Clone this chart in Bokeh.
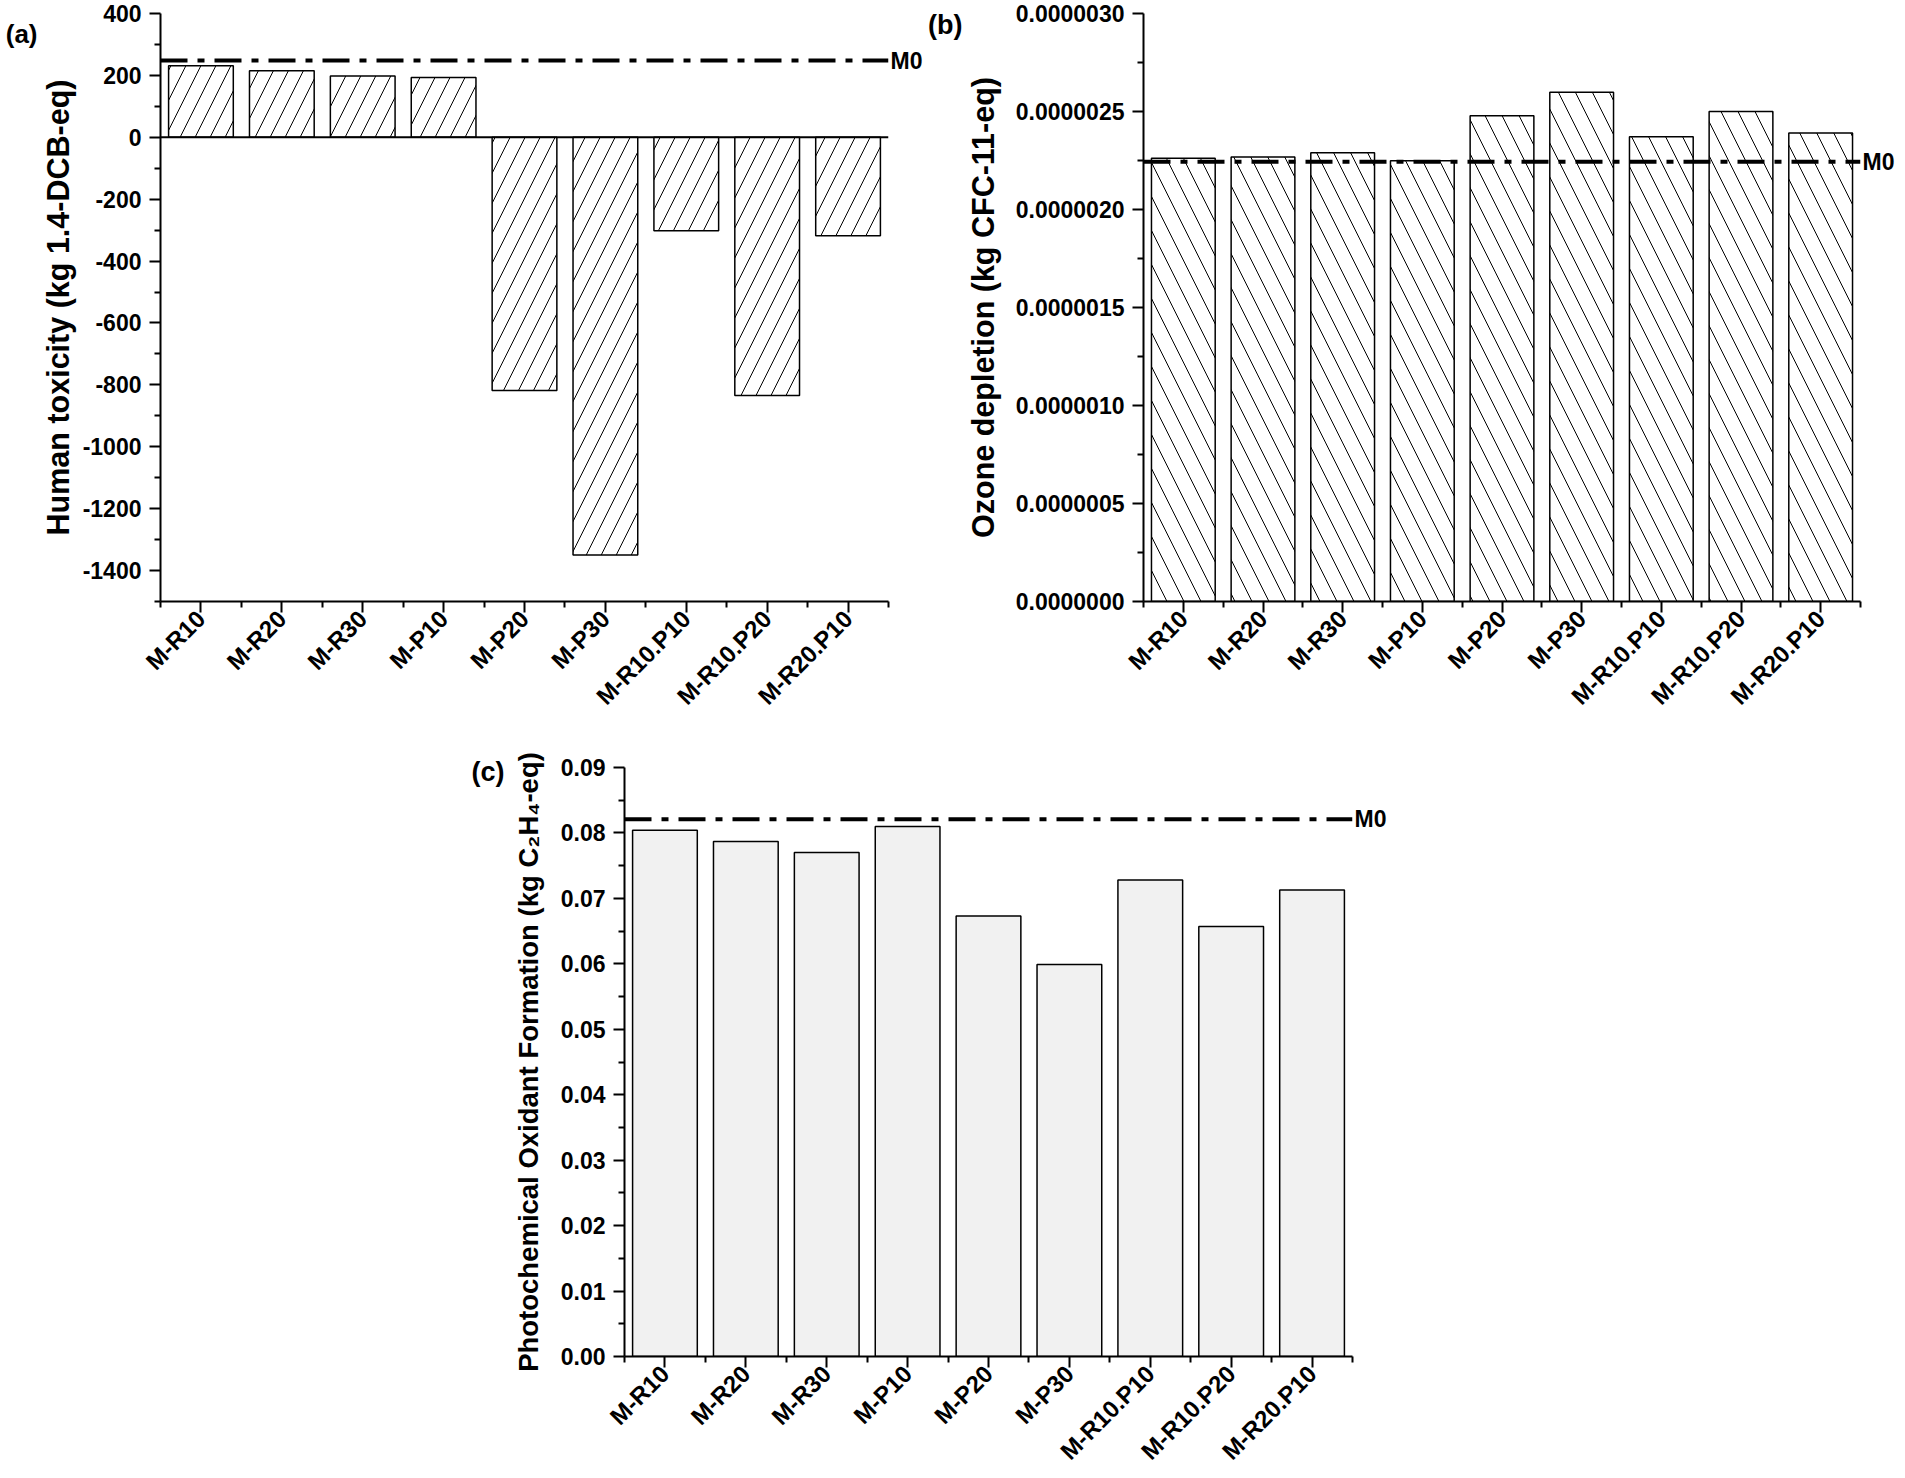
import math
from bokeh.plotting import figure
from bokeh.models import (Range1d, FixedTicker, PrintfTickFormatter, Span,
                          LinearAxis)
from bokeh.layouts import column, row
from bokeh.embed import file_html
from bokeh.resources import INLINE

# ---------------- data ----------------
categories = ["M-R10", "M-R20", "M-R30", "M-P10", "M-P20", "M-P30",
              "M-R10.P10", "M-R10.P20", "M-R20.P10"]

human_toxicity = [231, 215, 198, 193, -818, -1350, -302, -834, -318]
human_toxicity_m0 = 248

ozone_depletion = [2.261e-6, 2.268e-6, 2.289e-6, 2.249e-6, 2.478e-6,
                   2.598e-6, 2.371e-6, 2.500e-6, 2.390e-6]
ozone_depletion_m0 = 2.243e-6

photochemical = [0.0804, 0.0787, 0.0770, 0.0810, 0.0673,
                 0.0599, 0.0728, 0.0657, 0.0713]
photochemical_m0 = 0.0821

ticks_a = [-1400, -1200, -1000, -800, -600, -400, -200, 0, 200, 400]
tick_labels_a = ["-1400", "-1200", "-1000", "-800", "-600",
                 "-400", "-200", "0", "200", "400"]
ticks_b = [0.0, 0.5e-6, 1.0e-6, 1.5e-6, 2.0e-6, 2.5e-6, 3.0e-6]
ticks_c = [0.00, 0.01, 0.02, 0.03, 0.04, 0.05, 0.06, 0.07, 0.08, 0.09]

title_a = "Human toxicity (kg 1.4-DCB-eq)"
title_b = "Ozone depletion (kg CFC-11-eq)"
title_c = "Photochemical Oxidant Formation (kg C\u2082H\u2084-eq)"
baseline_name = "M0"

FONT = "Liberation Sans"
xs = list(range(1, len(categories) + 1))


def minor_between(ticks):
    step = ticks[1] - ticks[0]
    return [t - step / 2 for t in ticks] + [ticks[-1] + step / 2]


def style_axis(ax, size, standoff):
    ax.axis_line_width = 2
    ax.axis_line_color = "black"
    ax.major_tick_line_width = 2
    ax.minor_tick_line_width = 2
    ax.major_tick_line_color = "black"
    ax.minor_tick_line_color = "black"
    ax.major_tick_out = 11
    ax.major_tick_in = 0
    ax.minor_tick_out = 6
    ax.minor_tick_in = 0
    ax.major_label_text_font = FONT
    ax.major_label_text_font_style = "bold"
    ax.major_label_text_font_size = size
    ax.major_label_text_color = "black"
    ax.major_label_standoff = standoff


def text_axis(text, pos, size, standoff, range_name=None):
    kw = {}
    if range_name:
        kw["y_range_name"] = range_name
    ax = LinearAxis(ticker=FixedTicker(ticks=[pos], minor_ticks=[]),
                    major_label_overrides={pos: text}, **kw)
    ax.axis_line_color = None
    ax.major_tick_line_color = None
    ax.minor_tick_line_color = None
    ax.major_tick_out = 0
    ax.major_tick_in = 0
    ax.minor_tick_out = 0
    ax.minor_tick_in = 0
    ax.major_label_text_font = FONT
    ax.major_label_text_font_style = "bold"
    ax.major_label_text_font_size = size
    ax.major_label_text_color = "black"
    ax.major_label_standoff = standoff
    return ax


def make_fig(width, height, bl, br, bt, bb, y0, y1, title, title_size, title_standoff):
    p = figure(width=width, height=height, output_backend="svg",
               toolbar_location=None,
               x_range=Range1d(0.5, len(categories) + 0.5),
               y_range=Range1d(y0, y1),
               min_border_left=bl, min_border_right=br,
               min_border_top=bt, min_border_bottom=bb)
    p.extra_y_ranges = {"lbl": Range1d(0, 1)}
    p.outline_line_color = None
    p.xgrid.visible = False
    p.ygrid.visible = False
    p.background_fill_color = "white"
    p.border_fill_color = "white"
    style_axis(p.xaxis[0], "24px", 2)
    style_axis(p.yaxis[0], "23px", 8)
    xa = p.xaxis[0]
    xa.ticker = FixedTicker(ticks=xs, minor_ticks=minor_between(xs))
    xa.major_label_overrides = {x: c for x, c in zip(xs, categories)}
    xa.major_label_orientation = math.pi / 4
    ya = p.yaxis[0]
    ya.axis_label = title
    ya.axis_label_text_font = FONT
    ya.axis_label_text_font_style = "bold"
    ya.axis_label_text_font_size = title_size
    ya.axis_label_text_color = "black"
    ya.axis_label_standoff = title_standoff
    return p


def add_m0(p, m0):
    p.add_layout(Span(location=m0, dimension="width", line_color="black",
                      line_width=4, line_dash="27 10 7 10"))
    p.add_layout(text_axis(baseline_name, m0, "23px", 2), "right")


# ---------------- panel (a) ----------------
pa = make_fig(925, 740, 160, 36, 13, 139, -1500, 400, title_a, "30.5px", 5)
pa.vbar(x=xs, top=human_toxicity, bottom=0, width=0.8,
        fill_color="white", line_color="black", line_width=1.5,
        hatch_pattern="/", hatch_color="black", hatch_weight=1, hatch_scale=30)
pa.yaxis[0].ticker = FixedTicker(ticks=ticks_a, minor_ticks=minor_between(ticks_a) + [-1500])
pa.yaxis[0].major_label_overrides = {t: s for t, s in zip(ticks_a, tick_labels_a)}
pa.add_layout(Span(location=0, dimension="width", line_color="black", line_width=2))
add_m0(pa, human_toxicity_m0)
pa.add_layout(text_axis("(a)", 0.965, "26px", 0, "lbl"), "left")

# ---------------- panel (b) ----------------
pb = make_fig(980, 740, 214, 45, 12, 139, 0, 3.0e-6, title_b, "30.5px", 13)
pb.vbar(x=xs, top=ozone_depletion, bottom=0, width=0.8,
        fill_color="white", line_color="black", line_width=1.5,
        hatch_pattern="\\", hatch_color="black", hatch_weight=1, hatch_scale=34)
pb.yaxis[0].ticker = FixedTicker(ticks=ticks_b, minor_ticks=minor_between(ticks_b))
pb.yaxis[0].formatter = PrintfTickFormatter(format="%.7f")
add_m0(pb, ozone_depletion_m0)
pb.add_layout(text_axis("(b)", 0.981, "27px", 0, "lbl"), "left")

# ---------------- panel (c) ----------------
pc = make_fig(1905, 738, 624, 553, 27, 122, 0, 0.09, title_c, "27.5px", 14)
pc.vbar(x=xs, top=photochemical, bottom=0, width=0.8,
        fill_color="#f1f1f1", line_color="black", line_width=1.5)
pc.yaxis[0].ticker = FixedTicker(ticks=ticks_c, minor_ticks=minor_between(ticks_c))
pc.yaxis[0].formatter = PrintfTickFormatter(format="%.2f")
add_m0(pc, photochemical_m0)
pc.add_layout(text_axis("(c)", 0.993, "27px", 5, "lbl"), "left")

layout = column(row(pa, pb), pc)
open("out.html", "w").write(file_html(layout, INLINE))
